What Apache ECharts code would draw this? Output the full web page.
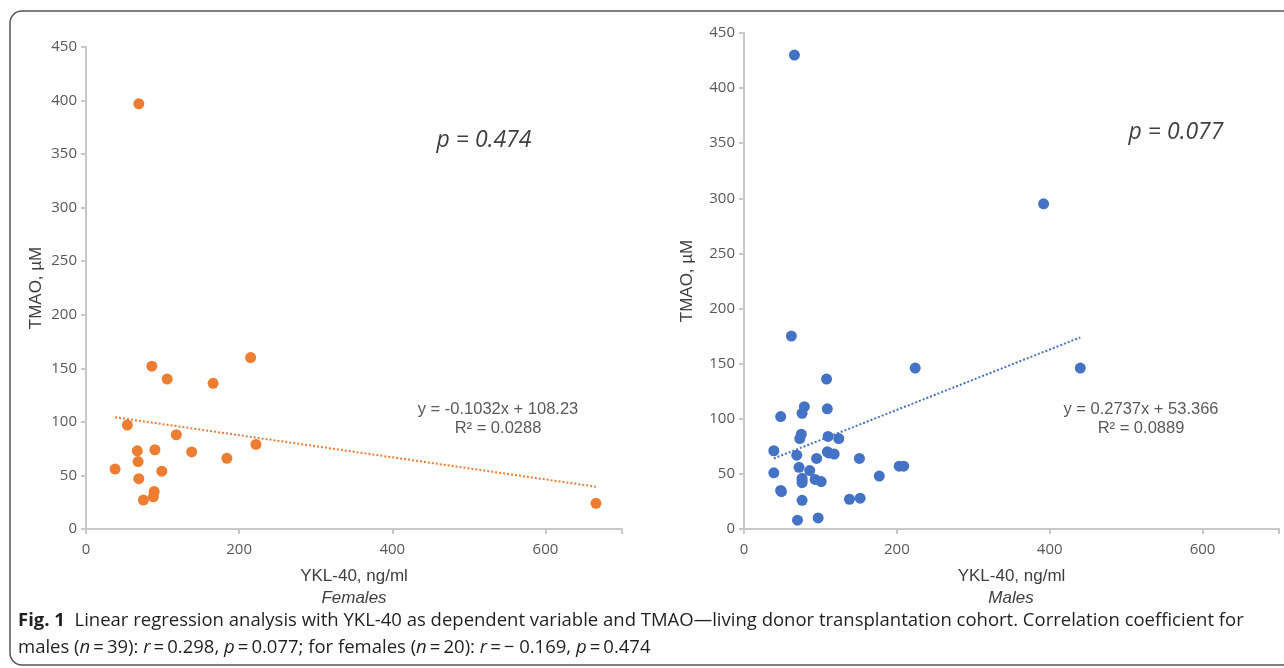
<!DOCTYPE html>
<html style="height: 100%">
  <head>
    <meta charset="utf-8" />
  </head>
  <body style="height: 100%; margin: 0; background: #fff">
    <div id="container" style="width: 1284px; height: 668px"></div>

    <script type="text/javascript" src="https://cdn.jsdelivr.net/npm/echarts@6/dist/echarts.min.js"></script>

    <script type="text/javascript">
      // values: [YKL-40 ng/ml, TMAO µM]
      var females = [
        [69, 397], [54, 97], [86, 152], [106, 140], [166, 136], [215, 160],
        [118, 88], [222, 79], [67, 73], [90, 74], [138, 72], [184, 66],
        [68, 63], [38, 56], [99, 54], [69, 47], [89, 35], [88, 30],
        [75, 27], [666, 24]
      ];
      var males = [
        [66, 430], [392, 295], [62, 175], [224, 146], [440, 146], [108, 136],
        [79, 111], [76, 105], [48, 102], [109, 109], [75, 86], [73, 82],
        [110, 84], [124, 82], [39, 71], [109, 70], [118, 68], [69, 67],
        [95, 64], [151, 64], [72, 56], [203, 57], [209, 57], [86, 53],
        [39, 51], [177, 48], [76, 46], [93, 45], [101, 43], [76, 42],
        [48, 35], [49, 34], [138, 27], [152, 28], [76, 26], [70, 8],
        [97, 10], [111, 69], [76, 44]
      ];
      // trendline end points as drawn in the figure
      var femalesTrend = [[38, 104.3], [666, 39.5]];
      var malesTrend = [[39, 64.0], [440, 173.8]];

      var yTicks = { min: 0, max: 450, interval: 50 };
      var xTicks = { min: 0, max: 700, interval: 200 };

      var femalesEq = ["y = -0.1032x + 108.23", "R² = 0.0288"];
      var malesEq = ["y = 0.2737x + 53.366", "R² = 0.0889"];

      var orange = "#ED7D31";
      var blue = "#4472C4";
      var grey = "#595959";

      var dom = document.getElementById("container");
      var myChart = echarts.init(dom);

      function xAxis(idx) {
        return {
          type: "value",
          gridIndex: idx,
          min: xTicks.min,
          max: xTicks.max,
          interval: xTicks.interval,
          name: "YKL-40, ng/ml",
          nameLocation: "middle",
          nameGap: 39,
          nameTextStyle: { fontFamily: "Liberation Sans", fontSize: 17, color: "#404040" },
          splitLine: { show: false },
          axisLine: { lineStyle: { color: "#c8c8c8", width: 2 } },
          axisTick: { show: true, length: 5, lineStyle: { color: "#c8c8c8", width: 2 } },
          axisLabel: { fontFamily: "Open Sans", fontSize: 15, color: grey, margin: 13,
            formatter: function (v) { return v === 700 ? "" : v; } }
        };
      }
      function yAxis(idx, gap) {
        return {
          type: "value",
          gridIndex: idx,
          min: yTicks.min,
          max: yTicks.max,
          interval: yTicks.interval,
          name: "TMAO, µM",
          nameLocation: "middle",
          nameGap: gap,
          nameTextStyle: { fontFamily: "Liberation Sans", fontSize: 17, color: "#404040" },
          splitLine: { show: false },
          axisLine: { show: true, lineStyle: { color: "#c8c8c8", width: 2 } },
          axisTick: { show: true, length: 5, lineStyle: { color: "#c8c8c8", width: 2 } },
          axisLabel: { fontFamily: "Open Sans", fontSize: 15, color: grey, margin: 9 }
        };
      }

      var capFont = "Open Sans";
      var capSize = 18.5;

      option = {
        backgroundColor: "#fff",
        animation: false,
        grid: [
          { left: 86, top: 47, width: 536, height: 482 },
          { left: 744, top: 33, width: 535, height: 496 }
        ],
        xAxis: [xAxis(0), xAxis(1)],
        yAxis: [yAxis(0, 41), yAxis(1, 48)],
        series: [
          {
            type: "scatter", xAxisIndex: 0, yAxisIndex: 0, data: females,
            symbolSize: 11, itemStyle: { color: orange, opacity: 1 }, z: 3
          },
          {
            type: "line", xAxisIndex: 0, yAxisIndex: 0, data: femalesTrend,
            showSymbol: false, lineStyle: { color: orange, width: 2, type: "dotted" }
          },
          {
            type: "scatter", xAxisIndex: 1, yAxisIndex: 1, data: males,
            symbolSize: 11, itemStyle: { color: blue, opacity: 1 }, z: 3
          },
          {
            type: "line", xAxisIndex: 1, yAxisIndex: 1, data: malesTrend,
            showSymbol: false, lineStyle: { color: blue, width: 2, type: "dotted" }
          }
        ],
        graphic: [
          {
            type: "rect", silent: true, z: -1,
            shape: { x: 10, y: 11, width: 1320, height: 654, r: 12 },
            style: { fill: null, stroke: "#555", lineWidth: 1.5 }
          },
          {
            type: "text", x: 484, y: 140,
            style: { text: "p = 0.474", fontFamily: "Open Sans", fontStyle: "italic", fontSize: 23,
              fill: "#404040", align: "center", verticalAlign: "middle" }
          },
          {
            type: "text", x: 1176, y: 132,
            style: { text: "p = 0.077", fontFamily: "Open Sans", fontStyle: "italic", fontSize: 23,
              fill: "#404040", align: "center", verticalAlign: "middle" }
          },
          {
            type: "text", x: 498, y: 419,
            style: { text: femalesEq.join("\n"), fontFamily: "Liberation Sans", fontSize: 16.5, lineHeight: 19,
              fill: grey, align: "center", verticalAlign: "middle" }
          },
          {
            type: "text", x: 1141, y: 419,
            style: { text: malesEq.join("\n"), fontFamily: "Liberation Sans", fontSize: 16.5, lineHeight: 19,
              fill: grey, align: "center", verticalAlign: "middle" }
          },
          {
            type: "text", x: 354, y: 598,
            style: { text: "Females", fontFamily: "Liberation Sans", fontStyle: "italic", fontSize: 17,
              fill: "#404040", align: "center", verticalAlign: "middle" }
          },
          {
            type: "text", x: 1011, y: 598,
            style: { text: "Males", fontFamily: "Liberation Sans", fontStyle: "italic", fontSize: 17,
              fill: "#404040", align: "center", verticalAlign: "middle" }
          },
          {
            type: "text", x: 18, y: 621,
            style: {
              text: "{b|Fig. 1}  Linear regression analysis with YKL-40 as dependent variable and TMAO\u2014living donor transplantation cohort. Correlation coefficient for",
              rich: { b: { fontFamily: capFont, fontSize: capSize, fontWeight: "bold", fill: "#231f20" } },
              fontFamily: capFont, fontSize: capSize, fill: "#231f20", verticalAlign: "middle"
            }
          },
          {
            type: "text", x: 18, y: 648,
            style: {
              text: "males ({i|n}\u2009=\u200939): {i|r}\u2009=\u20090.298, {i|p}\u2009=\u20090.077; for females ({i|n}\u2009=\u200920): {i|r}\u2009=\u2009\u2212 0.169, {i|p}\u2009=\u20090.474",
              rich: { i: { fontFamily: capFont, fontSize: capSize, fontStyle: "italic", fill: "#231f20" } },
              fontFamily: capFont, fontSize: capSize, fill: "#231f20", verticalAlign: "middle"
            }
          }
        ]
      };

      option && myChart.setOption(option);
    </script>
  </body>
</html>
